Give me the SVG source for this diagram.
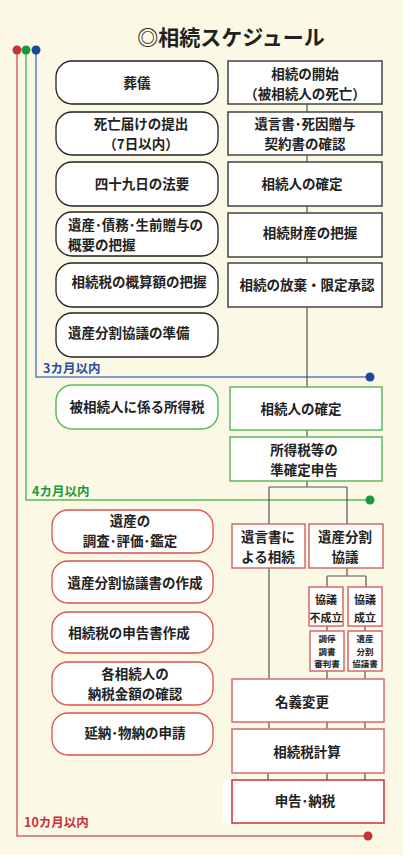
<svg xmlns="http://www.w3.org/2000/svg" width="411" height="857" viewBox="0 0 411 857">
<style>
text{font-family:"Noto Sans CJK JP","Noto Sans CJK SC",sans-serif;font-size:13.5px;font-weight:bold;fill:#222;text-anchor:middle}
.rb{fill:#fff;stroke:#222;stroke-width:1.3}
.bb{fill:#fff;stroke:#444;stroke-width:1.5}
.gb{fill:#fff;stroke:#5cb85c;stroke-width:1.5}
.rl{fill:#fff;stroke:#d9534f;stroke-width:1.3}
.rr{fill:#fff;stroke:#d46a6a;stroke-width:1.5}
.rs{fill:#fff;stroke:#c8323c;stroke-width:1.5}
.cn{stroke:#555;stroke-width:1.2;fill:none}
.sm{font-size:11px}
.xs{font-size:8.5px}
.lab{text-anchor:start;font-size:12.5px}
</style>
<rect x="0" y="0" width="411" height="857" fill="#fff"/>
<rect x="0" y="0" width="403" height="855" fill="#fbf9e5"/>
<text x="231" y="45" style="font-size:21px">◎相続スケジュール</text>

<g id="timelines">
<polyline points="17,50 17,836 368,836" fill="none" stroke="#d06a6a" stroke-width="1.5"/>
<polyline points="26,50 26,500 370,500" fill="none" stroke="#5cb85c" stroke-width="1.5"/>
<polyline points="36,50 36,377 370,377" fill="none" stroke="#5b7ec2" stroke-width="1.5"/>
<circle cx="17" cy="50" r="4.5" fill="#c8303a"/>
<circle cx="26" cy="50" r="4.5" fill="#1a9a3a"/>
<circle cx="36" cy="50" r="4.5" fill="#1a47a0"/>
<circle cx="370" cy="377" r="4.5" fill="#1a47a0"/>
<circle cx="370" cy="500" r="4.5" fill="#1a9a3a"/>
<circle cx="368" cy="836" r="4.5" fill="#c8303a"/>
<text class="lab" x="43" y="373" style="fill:#2b4ea0">3カ月以内</text>
<text class="lab" x="32" y="496" style="fill:#1a9a3a">4カ月以内</text>
<text class="lab" x="24" y="827" style="fill:#c8303a">10カ月以内</text>
</g>

<g id="connectors">
<path class="cn" d="M307,104V112M307,155V162M307,206V213M307,257V263M307,307V387M307,430V437M307,481V487M269,487H347M269,487V524M347,487V524M269,568V679M347,568V576M327,576H366M327,576V587M366,576V587M327,626V631M365,626V631M327,671V679M365,671V679M269,722V729M327,722V729M365,722V729M268,773V780M327,773V780M365,773V780"/>
</g>

<g id="l1"><rect class="rb" x="56" y="61" width="162" height="43" rx="16"/><text x="137" y="88">葬儀</text></g>
<g id="l2"><rect class="rb" x="56" y="112" width="162" height="43" rx="16"/><text x="141" y="129">死亡届けの提出<tspan x="141" dy="20">（7日以内）</tspan></text></g>
<g id="l3"><rect class="rb" x="56" y="162" width="162" height="44" rx="16"/><text x="142" y="189">四十九日の法要</text></g>
<g id="l4"><rect class="rb" x="56" y="212" width="162" height="44" rx="16"/><text x="68" y="230" style="text-anchor:start">遺産･債務･生前贈与の<tspan x="68" dy="20">概要の把握</tspan></text></g>
<g id="l5"><rect class="rb" x="56" y="263" width="162" height="44" rx="16"/><text x="139" y="287">相続税の概算額の把握</text></g>
<g id="l6"><rect class="rb" x="56" y="313" width="162" height="44" rx="16"/><text x="68" y="338" style="text-anchor:start">遺産分割協議の準備</text></g>

<g id="r1"><rect class="bb" x="228" y="61" width="154" height="43"/><text x="305" y="79">相続の開始<tspan x="305" dy="20">（被相続人の死亡）</tspan></text></g>
<g id="r2"><rect class="bb" x="228" y="112" width="154" height="43"/><text x="305" y="129">遺言書･死因贈与<tspan x="305" dy="20">契約書の確認</tspan></text></g>
<g id="r3"><rect class="bb" x="228" y="162" width="154" height="44"/><text x="302" y="189">相続人の確定</text></g>
<g id="r4"><rect class="bb" x="228" y="213" width="154" height="44"/><text x="310" y="238">相続財産の把握</text></g>
<g id="r5"><rect class="bb" x="228" y="263" width="154" height="44"/><text x="307" y="290">相続の放棄・限定承認</text></g>

<g id="g1"><rect class="gb" x="56" y="385" width="162" height="44" rx="16"/><text x="137" y="412">被相続人に係る所得税</text></g>
<g id="g2"><rect class="gb" x="230" y="387" width="152" height="43"/><text x="301" y="414">相続人の確定</text></g>
<g id="g3"><rect class="gb" x="230" y="437" width="152" height="44"/><text x="304" y="455">所得税等の<tspan x="304" dy="20">準確定申告</tspan></text></g>

<g id="p1"><rect class="rl" x="52" y="510" width="161" height="43" rx="16"/><text x="130" y="526">遺産の<tspan x="130" dy="20">調査･評価･鑑定</tspan></text></g>
<g id="p2"><rect class="rl" x="52" y="561" width="161" height="42" rx="16"/><text x="135" y="588">遺産分割協議書の作成</text></g>
<g id="p3"><rect class="rl" x="52" y="612" width="161" height="41" rx="16"/><text x="129" y="638">相続税の申告書作成</text></g>
<g id="p4"><rect class="rl" x="52" y="662" width="161" height="43" rx="16"/><text x="135" y="679">各相続人の<tspan x="135" dy="20">納税金額の確認</tspan></text></g>
<g id="p5"><rect class="rl" x="52" y="713" width="161" height="42" rx="16"/><text x="135" y="738">延納･物納の申請</text></g>

<g id="q1"><rect class="rr" x="232" y="524" width="73" height="44"/><text x="268" y="542">遺言書に<tspan x="268" dy="20">よる相続</tspan></text></g>
<g id="q2"><rect class="rr" x="309" y="524" width="74" height="44"/><text x="345" y="542">遺産分割<tspan x="345" dy="20">協議</tspan></text></g>
<g id="q3"><rect class="rr" x="309" y="587" width="34" height="39"/><text class="sm" x="326" y="604">協議<tspan x="326" dy="18">不成立</tspan></text></g>
<g id="q4"><rect class="rr" x="348" y="587" width="34" height="39"/><text class="sm" x="365" y="604">協議<tspan x="365" dy="18">成立</tspan></text></g>
<g id="q5"><rect class="rr" x="310" y="631" width="34" height="40"/><text class="xs" x="327" y="642">調停<tspan x="327" dy="12.5">調書</tspan><tspan x="327" dy="12.5">審判書</tspan></text></g>
<g id="q6"><rect class="rr" x="348" y="631" width="34" height="40"/><text class="xs" x="365" y="642">遺産<tspan x="365" dy="12.5">分割</tspan><tspan x="365" dy="12.5">協議書</tspan></text></g>
<g id="q7"><rect class="rr" x="232" y="679" width="152" height="43"/><text x="302" y="707">名義変更</text></g>
<g id="q8"><rect class="rr" x="232" y="729" width="152" height="44"/><text x="307" y="757">相続税計算</text></g>
<g id="q9"><rect x="223" y="780" width="153" height="43" fill="#fff"/><rect class="rs" x="232" y="780" width="152" height="43"/><text x="305" y="806">申告･納税</text></g>
</svg>
